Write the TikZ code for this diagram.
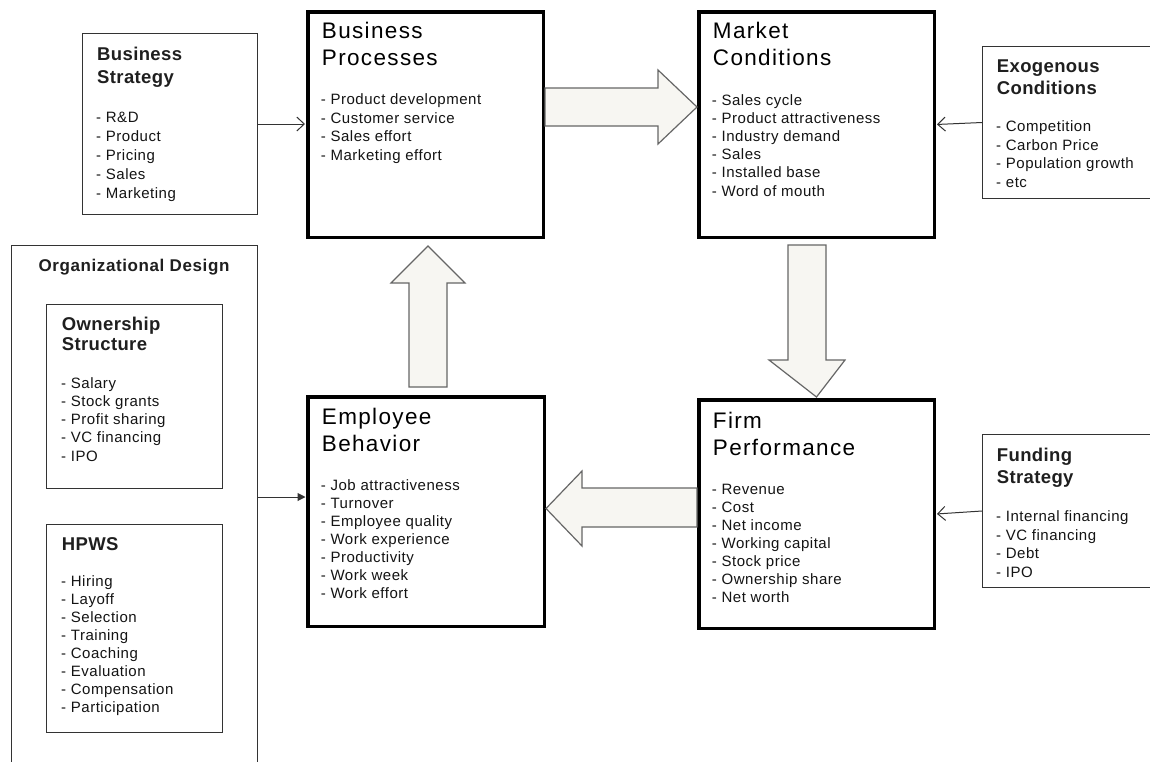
\documentclass[tikz,border=0pt]{standalone}
\usepackage{fontspec}
\setmainfont{Liberation Sans}
\newfontfamily\ttlfont[LetterSpace=6]{Liberation Sans}
\newfontfamily\itmfont[LetterSpace=3.5]{Liberation Sans}
\newfontfamily\subfont[LetterSpace=2]{Liberation Sans}
\usetikzlibrary{arrows.meta}
\definecolor{arrowfill}{HTML}{F7F6F2}
\newcommand{\lns}[1]{\begin{tabular}[t]{@{}l@{}}#1\end{tabular}}
\tikzset{
  mainbox/.style={draw=black, line width=3.5pt, inner sep=0pt, fill=white},
  subbox/.style={draw=black!80, line width=1.4pt, inner sep=0pt},
  ttl/.style={anchor=base west, inner sep=0pt, font=\ttlfont\fontsize{22.5}{26.7}\selectfont, text=black},
  sttl/.style={anchor=base west, inner sep=0pt, font=\subfont\bfseries\fontsize{18.5}{22}\selectfont, text=black!88},
  itm/.style={anchor=base west, inner sep=0pt, font=\itmfont\fontsize{15}{18.3}\selectfont, text=black!92},
  fat/.style={draw=black!60, fill=arrowfill, line width=1.2pt, line join=miter},
  conn/.style={draw=black!80, line width=1pt},
  open tip/.style={-{Straight Barb[length=7.5pt,width=14pt,line width=1pt]}},
  full tip/.style={-{Triangle[length=8pt,width=8pt]}}
}
\begin{document}
\begin{tikzpicture}[x=1pt,y=-1pt]
\useasboundingbox (0,0) rectangle (1150,761);
\clip (0,0) rectangle (1150,761);
\fill[white] (0,0) rectangle (1150,761);

% boxes
\node[mainbox, minimum width=235.5, minimum height=225.5] (bp) at (425.5,124.5) {};
\node[mainbox, minimum width=235.5, minimum height=225.5] (mc) at (816.5,124.5) {};
\node[mainbox, minimum width=236.5, minimum height=229.5] (eb) at (426,511.5) {};
\node[mainbox, minimum width=235.5, minimum height=228.5] (fp) at (816.5,514) {};
\node[subbox, minimum width=174.5, minimum height=180.5] (bs) at (170,124) {};
\node[subbox, minimum width=176.5, minimum height=151.5] (ex) at (1071,122.5) {};
\node[subbox, minimum width=176.5, minimum height=152.5] (fs) at (1071,511) {};
\node[subbox, minimum width=245.5, minimum height=528.5] (od) at (134.5,510) {};
\node[subbox, minimum width=175.5, minimum height=183.5] (ow) at (134.5,396.5) {};
\node[subbox, minimum width=175.5, minimum height=207.5] (hp) at (134.5,628.5) {};

% titles
\node[ttl] (bpT) at (321.7,38.3) {\lns{Business\\Processes}};
\node[ttl] (mcT) at (712.7,38.3) {\lns{Market\\Conditions}};
\node[ttl] (ebT) at (321.7,424.3) {\lns{Employee\\Behavior}};
\node[ttl] (fpT) at (712.7,428.3) {\lns{Firm\\Performance}};
\node[sttl, font=\subfont\bfseries\fontsize{18.5}{23}\selectfont] (bsT) at (97,60) {\lns{Business\\Strategy}};
\node[sttl, font=\subfont\bfseries\fontsize{18.5}{21.3}\selectfont] (exT) at (996.7,72.7) {\lns{Exogenous\\Conditions}};
\node[sttl, font=\subfont\bfseries\fontsize{18.5}{22.3}\selectfont] (fsT) at (996.7,461) {\lns{Funding\\Strategy}};
\node[sttl, font=\subfont\bfseries\fontsize{18.5}{20.7}\selectfont] (owT) at (61.7,330) {\lns{Ownership\\Structure}};
\node[sttl] (hpT) at (61.7,550.7) {HPWS};
\node[anchor=base, inner sep=0pt, font=\itmfont\bfseries\fontsize{17}{20}\selectfont, text=black!88] (odT) at (134,271.7) {Organizational Design};

% item lists
\node[itm, font=\itmfont\fontsize{15}{19}\selectfont] (bsI) at (96,122) {\lns{- R\&D\\ - Product\\ - Pricing\\- Sales\\- Marketing}};
\node[itm, font=\itmfont\fontsize{15}{18.5}\selectfont] (bpI) at (320.7,104.5) {\lns{- Product development\\- Customer service\\- Sales effort\\- Marketing effort}};
\node[itm, font=\itmfont\fontsize{15}{18.2}\selectfont] (mcI) at (711.7,105) {\lns{- Sales cycle\\- Product attractiveness\\- Industry demand\\- Sales\\- Installed base\\- Word of mouth}};
\node[itm, font=\itmfont\fontsize{15}{18.5}\selectfont] (exI) at (996,131.7) {\lns{- Competition\\- Carbon Price\\- Population growth\\- etc}};
\node[itm, font=\itmfont\fontsize{15}{18.2}\selectfont] (owI) at (61,388.3) {\lns{- Salary\\- Stock grants\\- Profit sharing\\- VC financing\\- IPO}};
\node[itm, font=\itmfont\fontsize{15}{17.9}\selectfont] (hpI) at (61,586.7) {\lns{- Hiring\\- Layoff\\- Selection\\- Training\\- Coaching\\- Evaluation\\- Compensation\\- Participation}};
\node[itm, font=\itmfont\fontsize{15}{18}\selectfont] (ebI) at (320.7,490) {\lns{- Job attractiveness\\- Turnover\\- Employee quality\\- Work experience\\- Productivity\\- Work week\\- Work effort}};
\node[itm, font=\itmfont\fontsize{15}{18}\selectfont] (fpI) at (711.7,494.3) {\lns{- Revenue\\- Cost\\- Net income\\- Working capital\\- Stock price\\- Ownership share\\- Net worth}};
\node[itm, font=\itmfont\fontsize{15}{18.5}\selectfont] (fsI) at (996,521.7) {\lns{- Internal financing\\- VC financing\\- Debt\\- IPO}};

% fat arrows
% Business Processes -> Market Conditions
\draw[fat] (bp.east |- 0,88) -- (658,88) -- (658,70) -- (mc.west |- 0,107) -- (658,144) -- (658,126) -- (bp.east |- 0,126) -- cycle;
% Market Conditions -> Firm Performance
\draw[fat] (788,245) -- (788,360) -- (769,360) -- (fp.north |- 0,397) -- (845,360) -- (826,360) -- (826,245) -- cycle;
% Firm Performance -> Employee Behavior
\draw[fat] (fp.west |- 0,488) -- (582,488) -- (582,471) -- (eb.east |- 0,508.5) -- (582,546) -- (582,527) -- (fp.west |- 0,527) -- cycle;
% Employee Behavior -> Business Processes
\draw[fat] (409,387) -- (409,283) -- (391,283) -- (428,246) -- (465,283) -- (447,283) -- (447,387) -- cycle;

% thin connectors
\draw[conn, open tip, shorten >=1pt] (bs.east) -- (bs.east -| bp.west);
\draw[conn, open tip, shorten >=1pt] (ex.west) -- (mc.east);
\draw[conn, open tip, shorten >=1pt] (fs.west) -- (fp.east);
\draw[conn, full tip, shorten >=0.5pt] (od.east |- 0,497) -- (eb.west |- 0,497);
\end{tikzpicture}
\end{document}
